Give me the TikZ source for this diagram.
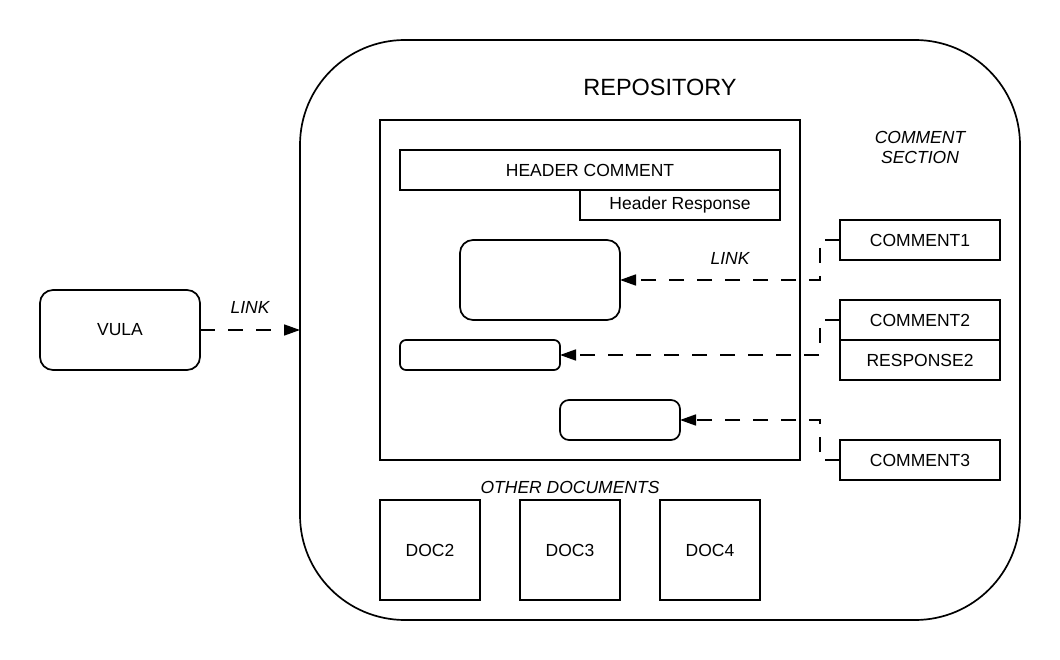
\documentclass[tikz,border=0pt]{standalone}
\usepackage{fontspec}
\setmainfont{Liberation Sans}
\usetikzlibrary{arrows.meta}
\begin{document}
\begin{tikzpicture}[x=1pt,y=-1pt,
  every node/.style={font=\fontsize{17.5}{20}\selectfont},
  box/.style={draw,line width=1.7pt,rectangle,inner sep=0pt,outer sep=0pt},
  rbox/.style={box,rounded corners=#1},
  lbl/.style={font=\fontsize{17.5}{20}\selectfont\itshape,inner sep=0pt},
  link/.style={line width=1.7pt,dash pattern=on 15pt off 13pt,-{Triangle[length=16pt,width=11pt]}}]
\useasboundingbox (0,0) rectangle (1060,660);
% repository
\node[rbox=105pt,minimum width=720pt,minimum height=580pt] (repo) at (660,330) {};
\node[inner sep=0pt,font=\fontsize{23.5}{26}\selectfont] (title) at (660,87) {REPOSITORY};
% main document
\node[box,minimum width=420pt,minimum height=340pt] (doc) at (590,290) {};
\node[box,minimum width=380pt,minimum height=40pt] (hc) at (590,170) {HEADER COMMENT};
\node[box,minimum width=200pt,minimum height=30pt] (hr) at (680,205) {Header Response};
\node[rbox=13pt,minimum width=160pt,minimum height=80pt] (b1) at (540,280) {};
\node[rbox=6pt,minimum width=160pt,minimum height=30pt] (b2) at (480,355) {};
\node[rbox=9pt,minimum width=120pt,minimum height=40pt] (b3) at (620,420) {};
% vula
\node[rbox=13pt,minimum width=160pt,minimum height=80pt] (vula) at (120,330) {VULA};
\node[lbl] (l1) at (250,307) {LINK};
\node[lbl] (l2) at (730,258) {LINK};
% comments
\node[lbl,align=center] (cs) at (920,147) {COMMENT\\[0pt]SECTION};
\node[box,minimum width=160pt,minimum height=40pt] (c1) at (920,240) {COMMENT1};
\node[box,minimum width=160pt,minimum height=40pt] (c2) at (920,320) {COMMENT2};
\node[box,minimum width=160pt,minimum height=40pt] (r2) at (920,360) {RESPONSE2};
\node[box,minimum width=160pt,minimum height=40pt] (c3) at (920,460) {COMMENT3};
% other documents
\node[lbl] (od) at (570,487) {OTHER DOCUMENTS};
\node[box,minimum width=100pt,minimum height=100pt] (d2) at (430,550) {DOC2};
\node[box,minimum width=100pt,minimum height=100pt] (d3) at (570,550) {DOC3};
\node[box,minimum width=100pt,minimum height=100pt] (d4) at (710,550) {DOC4};
% connectors
\coordinate (k1) at (820,240);
\coordinate (k2) at (820,320);
\coordinate (k3) at (820,460);
\draw[link] (vula.east) -- (repo.west);
\draw[link] (c1.west) -- (k1) |- (b1.east);
\draw[link] (c2.west) -- (k2) |- (b2.east);
\draw[link] (c3.west) -- (k3) |- (b3.east);
\end{tikzpicture}
\end{document}
